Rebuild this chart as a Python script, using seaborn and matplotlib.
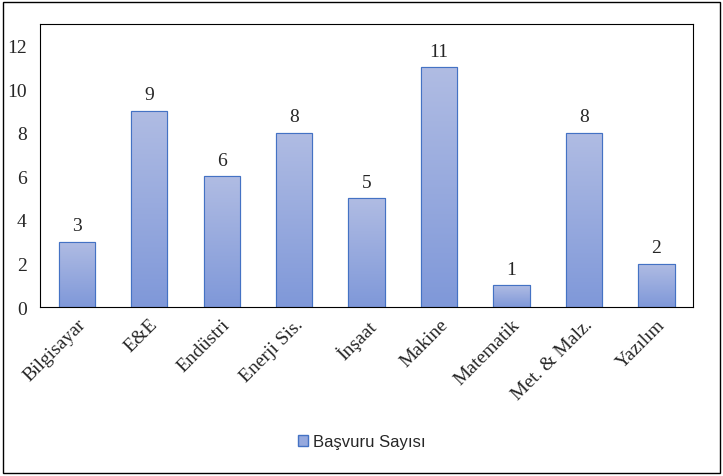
import numpy as np
import pandas as pd
import matplotlib.pyplot as plt
import seaborn as sns
from matplotlib.colors import LinearSegmentedColormap
from matplotlib.patches import Rectangle, Patch

sns.set_theme(style="white")
plt.rcParams['font.family'] = ['Liberation Serif', 'DejaVu Serif']

categories = ["Bilgisayar", "E&E", "Endüstri", "Enerji Sis.", "İnşaat",
              "Makine", "Matematik", "Met. & Malz.", "Yazılım"]
values = [3, 9, 6, 8, 5, 11, 1, 8, 2]
series_name = "Başvuru Sayısı"

df = pd.DataFrame({"cat": categories, "val": values})

fig = plt.figure(figsize=(7.23, 4.77), dpi=100)
ax = fig.add_axes([0.056, 0.354, 0.902, 0.594])
sns.barplot(data=df, x="cat", y="val", color="#8fa3dc", width=0.5,
            edgecolor="#4472c4", linewidth=0.8, ax=ax)

# vertical gradient fill clipped to each bar
cmap = LinearSegmentedColormap.from_list("g", ["#b0bce3", "#7f98d9"])
grad = np.linspace(0, 1, 256).reshape(-1, 1)
for p in ax.patches:
    x, y, w, h = p.get_x(), p.get_y(), p.get_width(), p.get_height()
    im = ax.imshow(grad, cmap=cmap, aspect="auto", origin="upper",
                   extent=[x, x + w, y, y + h], zorder=p.get_zorder() + 0.1)
    im.set_clip_path(p)
    edge = Rectangle((x, y), w, h, fill=False, edgecolor="#4472c4",
                     linewidth=0.8, zorder=p.get_zorder() + 0.2)
    ax.add_patch(edge)
    ax.text(x + w / 2, h + 0.35, f"{int(h)}", ha="center", va="bottom",
            fontsize=14)

ax.set_xlim(-0.5, len(categories) - 0.5)
ax.set_ylim(0, 13)
ax.set_yticks(range(0, 13, 2))
ax.tick_params(axis="y", labelsize=14, length=0, pad=10)
ax.tick_params(axis="x", labelsize=14, length=0, pad=6)
plt.setp(ax.get_xticklabels(), rotation=45, ha="right", rotation_mode="anchor")
ax.set_xlabel("")
ax.set_ylabel("")
for s in ax.spines.values():
    s.set_color("black")
    s.set_linewidth(0.8)

fig.legend(handles=[Patch(facecolor="#96a9de", edgecolor="#4472c4",
                          label=series_name)],
           loc="center", bbox_to_anchor=(0.5, 0.072), frameon=False,
           prop={"family": "Liberation Sans", "size": 12},
           handlelength=0.6, handleheight=0.6, handletextpad=0.3)

fig.add_artist(Rectangle((0.004, 0.006), 0.992, 0.988, transform=fig.transFigure,
                         fill=False, edgecolor="black", linewidth=1))

fig.savefig("out.png", dpi=100)
